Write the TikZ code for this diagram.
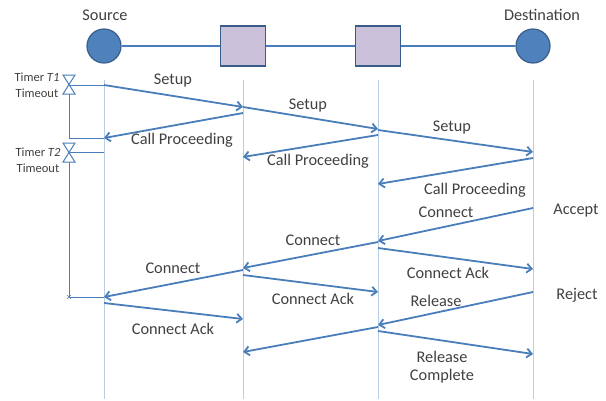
\documentclass[tikz,border=0pt]{standalone}
\usepackage{fontspec}
\setmainfont{Carlito}
\usetikzlibrary{arrows.meta}
\definecolor{msg}{RGB}{74,126,187}
\definecolor{life}{RGB}{185,205,229}
\definecolor{nodeblue}{RGB}{79,129,189}
\definecolor{nodeedge}{RGB}{56,93,138}
\definecolor{router}{RGB}{204,193,218}
\definecolor{txt}{RGB}{64,64,64}
\begin{document}
\begin{tikzpicture}[x=1pt,y=-1pt,
  msgarrow/.style={draw=msg,line width=1.8pt,-{Straight Barb[length=5pt,width=9pt]}},
  lifeline/.style={draw=life,line width=1pt},
  timerline/.style={draw=msg,line width=1pt},
  linkline/.style={draw=msg,line width=1.6pt},
  lbl/.style={text=txt,font=\fontsize{16.3}{19}\selectfont,inner sep=0pt},
  smalllbl/.style={text=txt,font=\fontsize{12.5}{14}\selectfont,inner sep=0pt},
  endpoint/.style={circle,fill=nodeblue,draw=nodeedge,line width=1.2pt,minimum size=34pt,inner sep=0pt},
  routerbox/.style={rectangle,fill=router,draw=nodeedge,line width=1.2pt,minimum width=45pt,minimum height=40pt,inner sep=0pt},
  hourglass/.style={draw=msg,fill=white,line width=1pt},
]
\useasboundingbox (0,0) rectangle (606,400);

% top topology
\node[endpoint] (src) at (104,46) {};
\node[routerbox] (r1) at (243,46) {};
\node[routerbox] (r2) at (378,46) {};
\node[endpoint] (dst) at (533,46) {};
\draw[linkline] (src) -- (r1);
\draw[linkline] (r1) -- (r2);
\draw[linkline] (r2) -- (dst);
\node[lbl] (srclbl) at (105,15) {Source};
\node[lbl] (dstlbl) at (542,15) {Destination};

% lifelines
\coordinate (sT) at (104,80); \coordinate (sB) at (104,399);
\coordinate (aT) at (243,80); \coordinate (aB) at (243,399);
\coordinate (bT) at (378,80); \coordinate (bB) at (378,399);
\coordinate (dT) at (533,80); \coordinate (dB) at (533,399);
\draw[lifeline] (sT) -- (sB);
\draw[lifeline] (aT) -- (aB);
\draw[lifeline] (bT) -- (bB);
\draw[lifeline] (dT) -- (dB);

% timers
\coordinate (t1) at (69,85);  \coordinate (t1s) at (104,85);
\coordinate (t1e) at (69,138); \coordinate (t1es) at (104,138);
\coordinate (t2) at (69,152); \coordinate (t2s) at (104,152);
\coordinate (t2e) at (69,297); \coordinate (t2es) at (104,297);
\draw[timerline] (t1s) -- (t1) -- (t1e) -- (t1es);
\draw[timerline] (t2s) -- (t2) -- (t2e) -- (t2es);
\draw[hourglass] (63,75) -- (75,75) -- (63,94) -- (75,94) -- cycle;
\draw[hourglass] (63,143) -- (75,143) -- (63,162) -- (75,162) -- cycle;
\draw[msg,line width=0.6pt] (67,295) -- (71,299) (67,299) -- (71,295);
\node[smalllbl] (tm1a) at (37,77) {Timer \textit{T1}};
\node[smalllbl] (tm1b) at (37,93) {Timeout};
\node[smalllbl] (tm2a) at (38,152) {Timer \textit{T2}};
\node[smalllbl] (tm2b) at (38,168) {Timeout};

% message end points
\coordinate (m1a) at (104,85);  \coordinate (m1b) at (243,107);
\coordinate (m2a) at (243,107); \coordinate (m2b) at (378,129);
\coordinate (m3a) at (378,130); \coordinate (m3b) at (533,152);
\coordinate (c1a) at (243,113); \coordinate (c1b) at (104,138);
\coordinate (c2a) at (378,135); \coordinate (c2b) at (243,157);
\coordinate (c3a) at (533,158); \coordinate (c3b) at (378,184);
\coordinate (n1a) at (533,208); \coordinate (n1b) at (378,241);
\coordinate (n2a) at (378,242); \coordinate (n2b) at (243,268);
\coordinate (n3a) at (243,270); \coordinate (n3b) at (104,297);
\coordinate (k1a) at (378,248); \coordinate (k1b) at (533,269);
\coordinate (k2a) at (243,275); \coordinate (k2b) at (378,292);
\coordinate (k3a) at (104,303); \coordinate (k3b) at (243,319);
\coordinate (r1a) at (533,292); \coordinate (r1b) at (378,325);
\coordinate (r2a) at (378,327); \coordinate (r2b) at (243,352);
\coordinate (rca) at (378,331); \coordinate (rcb) at (533,354);

\draw[msgarrow] (m1a) -- (m1b);
\draw[msgarrow] (m2a) -- (m2b);
\draw[msgarrow] (m3a) -- (m3b);
\draw[msgarrow] (c1a) -- (c1b);
\draw[msgarrow] (c2a) -- (c2b);
\draw[msgarrow] (c3a) -- (c3b);
\draw[msgarrow] (n1a) -- (n1b);
\draw[msgarrow] (n2a) -- (n2b);
\draw[msgarrow] (n3a) -- (n3b);
\draw[msgarrow] (k1a) -- (k1b);
\draw[msgarrow] (k2a) -- (k2b);
\draw[msgarrow] (k3a) -- (k3b);
\draw[msgarrow] (r1a) -- (r1b);
\draw[msgarrow] (r2a) -- (r2b);
\draw[msgarrow] (rca) -- (rcb);

% labels
\node[lbl] (ls1) at (173,81) {Setup};
\node[lbl] (ls2) at (308,106) {Setup};
\node[lbl] (ls3) at (452,128) {Setup};
\node[lbl] (lc1) at (182,140) {Call Proceeding};
\node[lbl] (lc2) at (318,161) {Call Proceeding};
\node[lbl] (lc3) at (475,190) {Call Proceeding};
\node[lbl] (ln1) at (446,212) {Connect};
\node[lbl] (ln2) at (313,240) {Connect};
\node[lbl] (ln3) at (173,268) {Connect};
\node[lbl] (lk1) at (448,273) {Connect Ack};
\node[lbl] (lk2) at (313,299) {Connect Ack};
\node[lbl] (lk3) at (173,329) {Connect Ack};
\node[lbl] (lr1) at (436,301) {Release};
\node[lbl] (lrc1) at (442,357) {Release};
\node[lbl] (lrc2) at (442,376) {Complete};
\node[lbl] (acc) at (576,211) {Accept};
\node[lbl] (rej) at (577,295) {Reject};
\end{tikzpicture}
\end{document}
